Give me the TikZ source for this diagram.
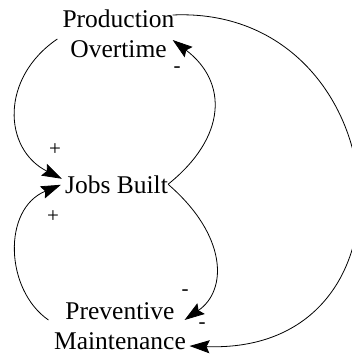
\documentclass[tikz,border=0pt]{standalone}
\usepackage{fontspec}
\setmainfont{Liberation Serif}
\usetikzlibrary{arrows.meta}
\begin{document}
\begin{tikzpicture}[x=1pt,y=-1pt,
  var/.style={inner sep=0pt, align=center, font=\fontsize{25.5}{30}\selectfont},
  sgn/.style={inner sep=0pt, font=\fontsize{21}{22}\selectfont},
  link/.style={line width=0.8pt, -{Stealth[length=20pt,width=13pt,inset=3pt]}}]
\useasboundingbox (0,0) rectangle (352,355);
\node[var, anchor=north] (po) at (118.5,10) {Production\\Overtime};
\node[var, anchor=base] (jb) at (116.5,193) {Jobs Built};
\node[var, anchor=north] (pm) at (120,302) {Preventive\\Maintenance};
% links
\draw[link] ([shift={(-5,29)}]po.north west) .. controls (0,78) and (3,149) .. ([shift={(-3,-5.5)}]jb.west);
\draw[link] (jb.east) .. controls (227,137) and (228,82) .. ([shift={(-2,30)}]po.north east);
\draw[link] (jb.east) .. controls (227,235) and (228,290) .. ([shift={(-1.5,18)}]pm.north east);
\draw[link] ([shift={(-5.5,18)}]pm.north west) .. controls (5,290) and (2,209) .. ([shift={(-4,0.5)}]jb.west);
\draw[link] ([shift={(-2,5)}]po.north east) .. controls (397,5) and (432,355) .. ([shift={(3.5,44)}]pm.north east);
% polarities
\node[sgn] (s1) at (55,150) {+};
\node[sgn] (s2) at (177,70) {-};
\node[sgn] (s3) at (53,217) {+};
\node[sgn] (s4) at (185,293) {-};
\node[sgn] (s5) at (202,326) {-};
\end{tikzpicture}
\end{document}
